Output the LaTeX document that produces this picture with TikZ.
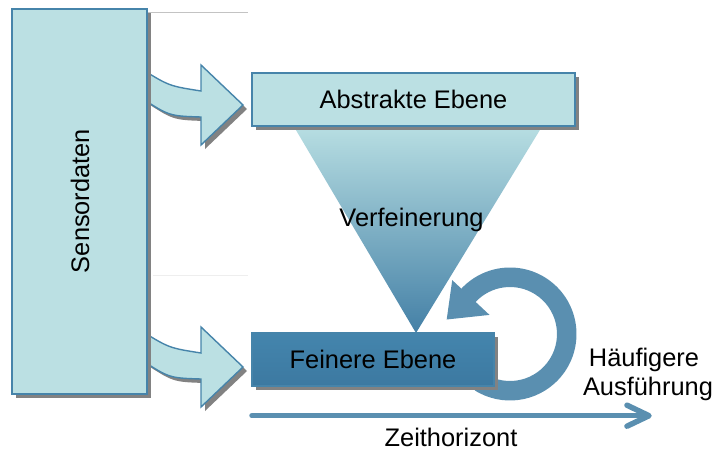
\documentclass[tikz,border=0pt]{standalone}
\usepackage{fontspec}
\setmainfont{Liberation Sans}
\usetikzlibrary{calc,shadows}

\definecolor{paleteal}{RGB}{187,224,227}
\definecolor{edgeblue}{RGB}{70,132,170}
\definecolor{deeptop}{RGB}{68,133,173}
\definecolor{deepbottom}{RGB}{60,121,161}
\definecolor{funneltop}{RGB}{187,225,228}
\definecolor{funnelbottom}{RGB}{68,128,166}
\definecolor{ringblue}{RGB}{90,143,176}
\definecolor{shadowgray}{RGB}{130,130,130}
\definecolor{rulegray}{RGB}{195,195,195}
\definecolor{faintgray}{RGB}{238,238,238}

\tikzset{
  x=1pt, y=1pt,
  label text/.style={font=\fontsize{25.4}{30}\selectfont, text=black, inner sep=0pt},
  boxshadow/.style={drop shadow={shadow xshift=4pt, shadow yshift=-4pt, fill=shadowgray, opacity=1}},
  panel/.style={rectangle, draw=edgeblue, line width=1.6pt, inner sep=0pt, boxshadow},
  pale panel/.style={panel, fill=paleteal},
  deep panel/.style={panel, top color=deeptop, bottom color=deepbottom},
  pics/feedarrow/.style={code={
    \path[fill=paleteal, draw=edgeblue, line width=1.4pt, line join=miter, boxshadow]
      (-103,37) .. controls (-74,19) .. (-42,14) -- (-42,40) -- (0,0) -- (-42,-40)
      -- (-42,-12) .. controls (-74,-11) .. (-103,8) -- cycle;
  }},
}

\begin{document}
\begin{tikzpicture}
  \useasboundingbox (0,0) rectangle (716,-450);

  % thin rules in the background
  \draw[rulegray, line width=0.8pt] (148,-12.5) -- (248,-12.5);
  \draw[faintgray, line width=0.8pt] (153,-275) -- (248,-275);

  % refinement funnel
  \shade[top color=funneltop, bottom color=funnelbottom]
    (290,-120) -- (546,-120) -- (416,-333) -- cycle;

  % repetition loop with its head
  \coordinate (loopc) at (510,-334);
  \fill[ringblue]
    ($(loopc)+(137:66.5)$) arc[start angle=137, end angle=-122, radius=66.5]
    -- ($(loopc)+(-122:47)$) arc[start angle=-122, end angle=137, radius=47]
    -- ($(loopc)+(137:28)$) -- (446.7,-319.5) -- ($(loopc)+(137:79)$) -- cycle;

  % block arrows from the sensor column
  \pic at (243,-105) {feedarrow};
  \pic at (243,-367) {feedarrow};

  % boxes
  \node[pale panel, minimum width=135pt, minimum height=385pt] (sens) at (79.5,-201.5) {};
  \node[label text, rotate=90, anchor=base] (senstext) at (89,-201) {Sensordaten};

  \node[pale panel, minimum width=323pt, minimum height=53pt, label text] (abstract)
    at (413.5,-99.5) {Abstrakte Ebene};
  \node[deep panel, minimum width=242pt, minimum height=53pt, label text] (fine)
    at (373,-359.5) {Feinere Ebene};

  % labels
  \node[label text, anchor=base] (refine) at (411.5,-226) {Verfeinerung};
  \node[label text, anchor=base] (often) at (644,-366) {Häufigere};
  \node[label text, anchor=base] (exec) at (648,-395) {Ausführung};
  \node[label text, anchor=base] (horizon) at (451,-446) {Zeithorizont};

  % time axis
  \coordinate (tstart) at (252,-415.7);
  \coordinate (tend) at (649,-415.7);
  \draw[ringblue, line width=5.5pt, line cap=round] (tstart) -- ($(tend)+(-3,0)$);
  \draw[ringblue, line width=5.5pt, line cap=round, line join=round]
    ($(tend)+(-22,10.5)$) -- (tend) -- ($(tend)+(-22,-10.5)$);
\end{tikzpicture}
\end{document}
